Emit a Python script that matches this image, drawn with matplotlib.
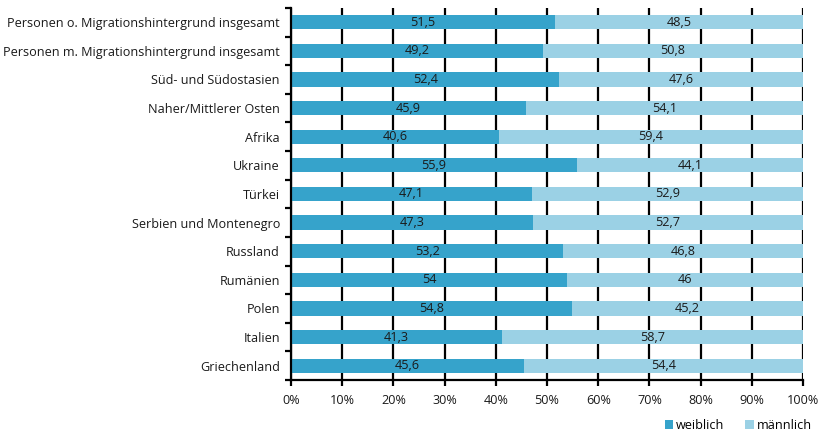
import matplotlib
matplotlib.use("Agg")
import matplotlib.pyplot as plt
import numpy as np
from matplotlib.ticker import FixedLocator

categories = [
    "Personen o. Migrationshintergrund insgesamt",
    "Personen m. Migrationshintergrund insgesamt",
    "Süd- und Südostasien",
    "Naher/Mittlerer Osten",
    "Afrika",
    "Ukraine",
    "Türkei",
    "Serbien und Montenegro",
    "Russland",
    "Rumänien",
    "Polen",
    "Italien",
    "Griechenland",
]
weiblich = [51.5, 49.2, 52.4, 45.9, 40.6, 55.9, 47.1, 47.3, 53.2, 54, 54.8, 41.3, 45.6]
maennlich = [48.5, 50.8, 47.6, 54.1, 59.4, 44.1, 52.9, 52.7, 46.8, 46, 45.2, 58.7, 54.4]
xticks = [0, 10, 20, 30, 40, 50, 60, 70, 80, 90, 100]

def fmt(v):
    s = ("%g" % v).replace(".", ",")
    return s

plt.rcParams['font.family'] = ['Open Sans', 'DejaVu Sans']
fig = plt.figure(figsize=(8.23, 4.38), dpi=100)
ax = fig.add_axes([0.3536, 0.1324, 0.6221, 0.8496])

fs = 9.1
c_w = "#36a3cb"
c_m = "#9bd1e5"
n = len(categories)
y = np.arange(n)
for xv in xticks:
    ax.axvline(xv, color="black", lw=1.6, zorder=1)
bw = ax.barh(y, weiblich, height=0.5, color=c_w, label="weiblich", zorder=2)
bm = ax.barh(y, maennlich, left=weiblich, height=0.5, color=c_m, label="männlich", zorder=2)
for i in range(n):
    ax.text(weiblich[i] / 2, y[i], fmt(weiblich[i]), ha="center", va="center",
            fontsize=fs, color="#1a1a1a", zorder=3)
    ax.text(weiblich[i] + maennlich[i] / 2, y[i], fmt(maennlich[i]), ha="center", va="center",
            fontsize=fs, color="#1a1a1a", zorder=3)

ax.set_xlim(0, 100)
ax.set_ylim(n - 0.5, -0.5)
ax.set_xticks(xticks)
ax.set_xticklabels([f"{t}%" for t in xticks], fontsize=fs, color="#1a1a1a")
ax.set_yticks(y)
ax.set_yticklabels(categories, fontsize=fs, color="#1a1a1a")
ax.tick_params(axis="y", which="major", length=0, pad=8)
ax.yaxis.set_minor_locator(FixedLocator(np.arange(-0.5, n, 1.0)))
ax.tick_params(axis="y", which="minor", length=4, width=1.6, direction="out")
ax.tick_params(axis="x", length=4, width=1.6, direction="out", pad=6)
for s in ["top", "right"]:
    ax.spines[s].set_visible(False)
for s in ["left", "bottom"]:
    ax.spines[s].set_linewidth(1.6)

fig.legend(handles=[bw, bm], labels=["weiblich", "männlich"], loc="lower right",
           bbox_to_anchor=(1.0, -0.012), ncol=2, frameon=False, fontsize=fs,
           handlelength=0.7, handleheight=0.7, handletextpad=0.2, columnspacing=1.65)

fig.savefig("out.png", dpi=100)
